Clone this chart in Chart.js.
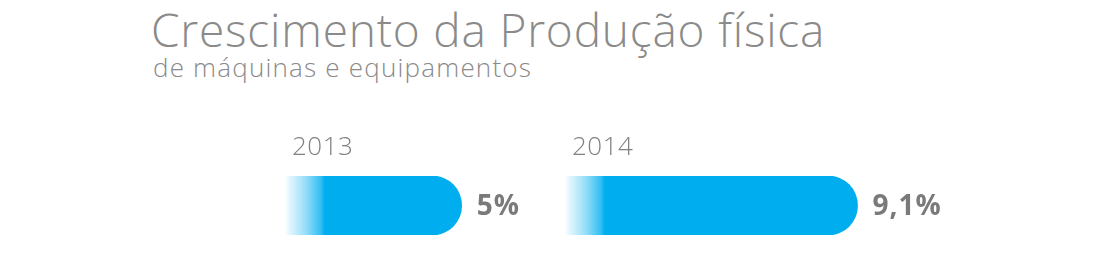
<!DOCTYPE html>
<html>
<head>
<meta charset="utf-8">
<script src="https://cdn.jsdelivr.net/npm/chart.js@4"></script>
<style>
  body { margin: 0; background: #fff; width: 1093px; height: 266px; overflow: hidden; position: relative; }
  .title { position: absolute; left: 151px; top: -2px; font: 300 46px "Open Sans", sans-serif; letter-spacing: 0.8px; color: #8a8a8a; white-space: nowrap; }
  .subtitle { position: absolute; left: 153px; top: 49px; font: 300 26px "Open Sans", sans-serif; letter-spacing: 1.2px; color: #8a8a8a; white-space: nowrap; }
  canvas { position: absolute; top: 110px; }
</style>
</head>
<body>
<div class="title">Crescimento da Produção física</div>
<div class="subtitle">de máquinas e equipamentos</div>
<canvas id="bar2013" width="418" height="140" style="left:285px"></canvas>
<canvas id="bar2014" width="418" height="140" style="left:565px"></canvas>
<script>
// data
const years = ['2013', '2014'];
const growth = [5, 9.1];
const valueLabels = ['5%', '9,1%'];

// the bars in the picture don't start at zero, so the axis begins a bit below it
const AXIS_MIN = -1.25;
const AXIS_MAX = 10;
const CYAN = '#00aeef';

// draws the year above the bar and the value after its end
const barLabels = {
  id: 'barLabels',
  afterDatasetsDraw(chart, args, opts) {
    const ctx = chart.ctx;
    const area = chart.chartArea;
    const bar = chart.getDatasetMeta(0).data[0];
    ctx.save();
    ctx.fillStyle = '#808080';
    ctx.font = '300 26px "Open Sans", sans-serif';
    ctx.letterSpacing = '0.5px';
    ctx.textBaseline = 'alphabetic';
    ctx.fillText(opts.year, area.left + 7, area.top - 21);
    ctx.fillStyle = '#7a7a7a';
    ctx.font = 'bold 28px "Open Sans", sans-serif';
    ctx.letterSpacing = '1px';
    ctx.textBaseline = 'middle';
    ctx.fillText(opts.value, bar.x + 15, bar.y + 2);
    ctx.restore();
  }
};

// white-to-cyan fade on the left end of each bar
function fade(context) {
  const area = context.chart.chartArea;
  if (!area) return CYAN;
  const g = context.chart.ctx.createLinearGradient(area.left, 0, area.left + 40, 0);
  g.addColorStop(0, 'rgba(0,174,239,0.02)');
  g.addColorStop(0.5, 'rgba(0,174,239,0.4)');
  g.addColorStop(0.88, 'rgba(0,174,239,0.78)');
  g.addColorStop(1, CYAN);
  return g;
}

function makeBar(id, i) {
  new Chart(document.getElementById(id), {
    type: 'bar',
    data: {
      labels: [years[i]],
      datasets: [{
        data: [growth[i]],
        base: AXIS_MIN,
        backgroundColor: fade,
        borderRadius: { topLeft: 0, bottomLeft: 0, topRight: 30, bottomRight: 30 },
        borderSkipped: false,
        barThickness: 59
      }]
    },
    options: {
      indexAxis: 'y',
      responsive: false,
      animation: false,
      layout: { padding: { top: 66, bottom: 15, left: 0, right: 100 } },
      scales: {
        x: { display: false, min: AXIS_MIN, max: AXIS_MAX },
        y: { display: false }
      },
      plugins: {
        legend: { display: false },
        tooltip: { enabled: false },
        barLabels: { year: years[i], value: valueLabels[i] }
      }
    },
    plugins: [barLabels]
  });
}

makeBar('bar2013', 0);
makeBar('bar2014', 1);
</script>
</body>
</html>
